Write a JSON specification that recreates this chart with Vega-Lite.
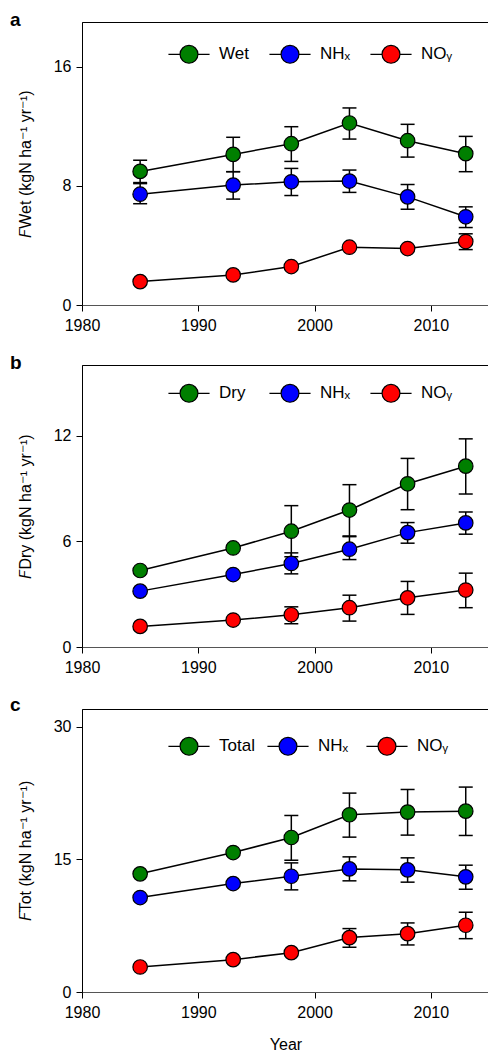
{
  "$schema": "https://vega.github.io/schema/vega-lite/v6.json",
  "background": "white",
  "padding": {"left": 9, "top": 10, "right": 0, "bottom": 0},
  "config": {
    "font": "Liberation Sans",
    "view": {"stroke": "black", "strokeWidth": 1},
    "axis": {"domainColor": "black", "tickColor": "black", "labelColor": "black", "titleColor": "black", "labelFont": "Liberation Sans", "titleFont": "Liberation Sans", "labelFontSize": 16, "titleFontSize": 16, "titleFontWeight": "normal", "tickSize": 6, "grid": false, "domainWidth": 1, "tickWidth": 1, "labelFlush": false},
    "title": {"font": "Liberation Sans", "fontSize": 19, "fontWeight": "bold", "anchor": "start", "frame": "group", "color": "black"},
    "legend": {"labelFont": "Liberation Sans", "labelFontSize": 17, "labelColor": "black", "gridAlign": "all"},
    "concat": {"spacing": 19}
  },
  "datasets": {
    "a": [
      {"year": 1985, "series": "Wet", "value": 8.97, "lo": 8.22, "hi": 9.72},
      {"year": 1993, "series": "Wet", "value": 10.11, "lo": 8.95, "hi": 11.26},
      {"year": 1998, "series": "Wet", "value": 10.83, "lo": 9.64, "hi": 11.97},
      {"year": 2003, "series": "Wet", "value": 12.22, "lo": 11.14, "hi": 13.23},
      {"year": 2008, "series": "Wet", "value": 11.03, "lo": 9.93, "hi": 12.13},
      {"year": 2013, "series": "Wet", "value": 10.16, "lo": 8.95, "hi": 11.32},
      {"year": 1985, "series": "NHₓ", "value": 7.44, "lo": 6.8, "hi": 8.15},
      {"year": 1993, "series": "NHₓ", "value": 8.05, "lo": 7.11, "hi": 8.95},
      {"year": 1998, "series": "NHₓ", "value": 8.27, "lo": 7.35, "hi": 9.17},
      {"year": 2003, "series": "NHₓ", "value": 8.32, "lo": 7.56, "hi": 9.06},
      {"year": 2008, "series": "NHₓ", "value": 7.26, "lo": 6.43, "hi": 8.09},
      {"year": 2013, "series": "NHₓ", "value": 5.92, "lo": 5.2, "hi": 6.59},
      {"year": 1985, "series": "NOᵧ", "value": 1.57, "lo": 1.57, "hi": 1.57},
      {"year": 1993, "series": "NOᵧ", "value": 2.02, "lo": 2.02, "hi": 2.02},
      {"year": 1998, "series": "NOᵧ", "value": 2.58, "lo": 2.58, "hi": 2.58},
      {"year": 2003, "series": "NOᵧ", "value": 3.88, "lo": 3.88, "hi": 3.88},
      {"year": 2008, "series": "NOᵧ", "value": 3.79, "lo": 3.79, "hi": 3.79},
      {"year": 2013, "series": "NOᵧ", "value": 4.26, "lo": 3.72, "hi": 4.78}
    ],
    "b": [
      {"year": 1985, "series": "Dry", "value": 4.34, "lo": 4.34, "hi": 4.34},
      {"year": 1993, "series": "Dry", "value": 5.62, "lo": 5.62, "hi": 5.62},
      {"year": 1998, "series": "Dry", "value": 6.57, "lo": 5.12, "hi": 8.02},
      {"year": 2003, "series": "Dry", "value": 7.77, "lo": 6.3, "hi": 9.21},
      {"year": 2008, "series": "Dry", "value": 9.26, "lo": 7.79, "hi": 10.7},
      {"year": 2013, "series": "Dry", "value": 10.26, "lo": 8.68, "hi": 11.81},
      {"year": 1985, "series": "NHₓ", "value": 3.17, "lo": 3.17, "hi": 3.17},
      {"year": 1993, "series": "NHₓ", "value": 4.11, "lo": 4.11, "hi": 4.11},
      {"year": 1998, "series": "NHₓ", "value": 4.74, "lo": 4.15, "hi": 5.34},
      {"year": 2003, "series": "NHₓ", "value": 5.55, "lo": 4.96, "hi": 6.26},
      {"year": 2008, "series": "NHₓ", "value": 6.49, "lo": 5.89, "hi": 7.06},
      {"year": 2013, "series": "NHₓ", "value": 7.04, "lo": 6.4, "hi": 7.66},
      {"year": 1985, "series": "NOᵧ", "value": 1.17, "lo": 1.17, "hi": 1.17},
      {"year": 1993, "series": "NOᵧ", "value": 1.53, "lo": 1.53, "hi": 1.53},
      {"year": 1998, "series": "NOᵧ", "value": 1.83, "lo": 1.32, "hi": 2.28},
      {"year": 2003, "series": "NOᵧ", "value": 2.23, "lo": 1.47, "hi": 2.94},
      {"year": 2008, "series": "NOᵧ", "value": 2.79, "lo": 1.85, "hi": 3.72},
      {"year": 2013, "series": "NOᵧ", "value": 3.23, "lo": 2.23, "hi": 4.19}
    ],
    "c": [
      {"year": 1985, "series": "Total", "value": 13.36, "lo": 13.36, "hi": 13.36},
      {"year": 1993, "series": "Total", "value": 15.77, "lo": 15.77, "hi": 15.77},
      {"year": 1998, "series": "Total", "value": 17.47, "lo": 14.9, "hi": 19.96},
      {"year": 2003, "series": "Total", "value": 20.04, "lo": 17.51, "hi": 22.49},
      {"year": 2008, "series": "Total", "value": 20.34, "lo": 17.74, "hi": 22.9},
      {"year": 2013, "series": "Total", "value": 20.45, "lo": 17.7, "hi": 23.17},
      {"year": 1985, "series": "NHₓ", "value": 10.68, "lo": 10.68, "hi": 10.68},
      {"year": 1993, "series": "NHₓ", "value": 12.26, "lo": 12.26, "hi": 12.26},
      {"year": 1998, "series": "NHₓ", "value": 13.09, "lo": 11.55, "hi": 14.6},
      {"year": 2003, "series": "NHₓ", "value": 13.92, "lo": 12.57, "hi": 15.28},
      {"year": 2008, "series": "NHₓ", "value": 13.81, "lo": 12.42, "hi": 15.17},
      {"year": 2013, "series": "NHₓ", "value": 13.02, "lo": 11.62, "hi": 14.34},
      {"year": 1985, "series": "NOᵧ", "value": 2.83, "lo": 2.83, "hi": 2.83},
      {"year": 1993, "series": "NOᵧ", "value": 3.66, "lo": 3.66, "hi": 3.66},
      {"year": 1998, "series": "NOᵧ", "value": 4.45, "lo": 4.45, "hi": 4.45},
      {"year": 2003, "series": "NOᵧ", "value": 6.15, "lo": 5.06, "hi": 7.17},
      {"year": 2008, "series": "NOᵧ", "value": 6.6, "lo": 5.32, "hi": 7.81},
      {"year": 2013, "series": "NOᵧ", "value": 7.55, "lo": 6.03, "hi": 9.02}
    ]
  },
  "vconcat": [
    {
      "width": 407, "height": 283,
      "title": {"text": "a", "dx": -72, "offset": -23, "baseline": "alphabetic"},
      "data": {"name": "a"},
      "encoding": {"x": {"field": "year", "type": "quantitative", "scale": {"domain": [1980, 2015], "nice": false, "zero": false}, "axis": {"values": [1980, 1990, 2000, 2010], "format": "d", "title": null, "labelPadding": 6, "domainColor": "#555"}}},
      "layer": [
        {"mark": {"type": "line", "color": "black", "strokeWidth": 1.5}, "encoding": {"y": {"field": "value", "type": "quantitative", "scale": {"domain": [0, 19], "nice": false}, "title": "𝘍Wet (kgN ha⁻¹ yr⁻¹)", "axis": {"values": [0, 8, 16], "titlePadding": 20, "labelPadding": 5}}, "detail": {"field": "series"}}},
        {"mark": {"type": "rule", "color": "black", "strokeWidth": 1.5}, "encoding": {"y": {"field": "lo", "type": "quantitative", "title": "𝘍Wet (kgN ha⁻¹ yr⁻¹)"}, "y2": {"field": "hi"}}},
        {"mark": {"type": "tick", "orient": "horizontal", "color": "black", "size": 14, "thickness": 1.5, "opacity": 1}, "encoding": {"y": {"field": "lo", "type": "quantitative", "title": "𝘍Wet (kgN ha⁻¹ yr⁻¹)"}}},
        {"mark": {"type": "tick", "orient": "horizontal", "color": "black", "size": 14, "thickness": 1.5, "opacity": 1}, "encoding": {"y": {"field": "hi", "type": "quantitative", "title": "𝘍Wet (kgN ha⁻¹ yr⁻¹)"}}},
        {"mark": {"type": "point", "shape": "circle", "filled": true, "size": 210, "stroke": "black", "strokeWidth": 1.2, "opacity": 1}, "encoding": {"y": {"field": "value", "type": "quantitative", "title": "𝘍Wet (kgN ha⁻¹ yr⁻¹)"}, "fill": {"field": "series", "type": "nominal", "scale": {"domain": ["Wet", "NHₓ", "NOᵧ"], "range": ["#007f00", "#0000ff", "#ff0000"]}, "legend": {"orient": "none", "legendX": 97, "legendY": 22, "direction": "horizontal", "title": null, "symbolType": "M-2.3,0L-1,0M1,0L2.3,0M-1,0A1,1,0,1,1,1,0A1,1,0,1,1,-1,0Z", "symbolSize": 320, "symbolStrokeColor": "black", "symbolStrokeWidth": 1.2, "symbolOpacity": 1, "labelOffset": 20, "columnPadding": 17}}}}
      ]
    },
    {
      "width": 407, "height": 282,
      "title": {"text": "b", "dx": -72, "offset": -23, "baseline": "alphabetic"},
      "data": {"name": "b"},
      "encoding": {"x": {"field": "year", "type": "quantitative", "scale": {"domain": [1980, 2015], "nice": false, "zero": false}, "axis": {"values": [1980, 1990, 2000, 2010], "format": "d", "title": null, "labelPadding": 6, "domainColor": "#555"}}},
      "layer": [
        {"mark": {"type": "line", "color": "black", "strokeWidth": 1.5}, "encoding": {"y": {"field": "value", "type": "quantitative", "scale": {"domain": [0, 16], "nice": false}, "title": "𝘍Dry (kgN ha⁻¹ yr⁻¹)", "axis": {"values": [0, 6, 12], "titlePadding": 20, "labelPadding": 5}}, "detail": {"field": "series"}}},
        {"mark": {"type": "rule", "color": "black", "strokeWidth": 1.5}, "encoding": {"y": {"field": "lo", "type": "quantitative", "title": "𝘍Dry (kgN ha⁻¹ yr⁻¹)"}, "y2": {"field": "hi"}}},
        {"mark": {"type": "tick", "orient": "horizontal", "color": "black", "size": 14, "thickness": 1.5, "opacity": 1}, "encoding": {"y": {"field": "lo", "type": "quantitative", "title": "𝘍Dry (kgN ha⁻¹ yr⁻¹)"}}},
        {"mark": {"type": "tick", "orient": "horizontal", "color": "black", "size": 14, "thickness": 1.5, "opacity": 1}, "encoding": {"y": {"field": "hi", "type": "quantitative", "title": "𝘍Dry (kgN ha⁻¹ yr⁻¹)"}}},
        {"mark": {"type": "point", "shape": "circle", "filled": true, "size": 210, "stroke": "black", "strokeWidth": 1.2, "opacity": 1}, "encoding": {"y": {"field": "value", "type": "quantitative", "title": "𝘍Dry (kgN ha⁻¹ yr⁻¹)"}, "fill": {"field": "series", "type": "nominal", "scale": {"domain": ["Dry", "NHₓ", "NOᵧ"], "range": ["#007f00", "#0000ff", "#ff0000"]}, "legend": {"orient": "none", "legendX": 97, "legendY": 18, "direction": "horizontal", "title": null, "symbolType": "M-2.3,0L-1,0M1,0L2.3,0M-1,0A1,1,0,1,1,1,0A1,1,0,1,1,-1,0Z", "symbolSize": 320, "symbolStrokeColor": "black", "symbolStrokeWidth": 1.2, "symbolOpacity": 1, "labelOffset": 20, "columnPadding": 17}}}}
      ]
    },
    {
      "width": 407, "height": 283,
      "title": {"text": "c", "dx": -72, "offset": -21, "baseline": "alphabetic"},
      "data": {"name": "c"},
      "encoding": {"x": {"field": "year", "type": "quantitative", "scale": {"domain": [1980, 2015], "nice": false, "zero": false}, "axis": {"values": [1980, 1990, 2000, 2010], "format": "d", "title": "Year", "titlePadding": 16, "labelPadding": 6, "domainColor": "#555"}}},
      "layer": [
        {"mark": {"type": "line", "color": "black", "strokeWidth": 1.5}, "encoding": {"y": {"field": "value", "type": "quantitative", "scale": {"domain": [0, 32], "nice": false}, "title": "𝘍Tot (kgN ha⁻¹ yr⁻¹)", "axis": {"values": [0, 15, 30], "titlePadding": 20, "labelPadding": 5}}, "detail": {"field": "series"}}},
        {"mark": {"type": "rule", "color": "black", "strokeWidth": 1.5}, "encoding": {"y": {"field": "lo", "type": "quantitative", "title": "𝘍Tot (kgN ha⁻¹ yr⁻¹)"}, "y2": {"field": "hi"}}},
        {"mark": {"type": "tick", "orient": "horizontal", "color": "black", "size": 14, "thickness": 1.5, "opacity": 1}, "encoding": {"y": {"field": "lo", "type": "quantitative", "title": "𝘍Tot (kgN ha⁻¹ yr⁻¹)"}}},
        {"mark": {"type": "tick", "orient": "horizontal", "color": "black", "size": 14, "thickness": 1.5, "opacity": 1}, "encoding": {"y": {"field": "hi", "type": "quantitative", "title": "𝘍Tot (kgN ha⁻¹ yr⁻¹)"}}},
        {"mark": {"type": "point", "shape": "circle", "filled": true, "size": 210, "stroke": "black", "strokeWidth": 1.2, "opacity": 1}, "encoding": {"y": {"field": "value", "type": "quantitative", "title": "𝘍Tot (kgN ha⁻¹ yr⁻¹)"}, "fill": {"field": "series", "type": "nominal", "scale": {"domain": ["Total", "NHₓ", "NOᵧ"], "range": ["#007f00", "#0000ff", "#ff0000"]}, "legend": {"orient": "none", "legendX": 97, "legendY": 27, "direction": "horizontal", "title": null, "symbolType": "M-2.3,0L-1,0M1,0L2.3,0M-1,0A1,1,0,1,1,1,0A1,1,0,1,1,-1,0Z", "symbolSize": 320, "symbolStrokeColor": "black", "symbolStrokeWidth": 1.2, "symbolOpacity": 1, "labelOffset": 20, "columnPadding": 10}}}}
      ]
    }
  ],
  "resolve": {"scale": {"fill": "independent"}, "legend": {"fill": "independent"}}
}
